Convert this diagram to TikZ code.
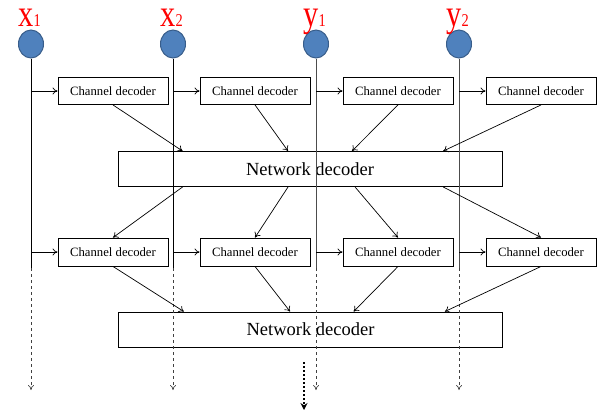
\documentclass[tikz,border=0pt]{standalone}
\usepackage{fontspec}
\setmainfont{Liberation Serif}
\usepackage{xcolor}
\usepackage{tikz}
\usetikzlibrary{shapes.geometric, arrows.meta, positioning, calc}
\definecolor{nodecolor}{RGB}{79,129,189}
\definecolor{nodeedge}{RGB}{56,93,138}
\definecolor{labelcolor}{RGB}{255,0,0}

\begin{document}
\begin{tikzpicture}[
    x=1pt, y=-1pt,
    source/.style={ellipse, draw=nodeedge, line width=1pt, fill=nodecolor, minimum width=25pt, minimum height=28pt, inner sep=0pt},
    srclabel/.style={anchor=base, text=labelcolor, inner sep=0pt},
    chdec/.style={draw, line width=0.9pt, minimum width=110pt, minimum height=27pt, inner sep=0pt, font=\fontsize{12.7}{13}\selectfont},
    netdec/.style={draw, line width=0.9pt, minimum width=384pt, minimum height=35pt, inner sep=0pt, font=\fontsize{18.5}{19}\selectfont},
    flow/.style={-{To[length=5pt,width=7pt]}, line width=0.7pt},
    wire/.style={line width=0.8pt},
    tail/.style={dashed, line width=0.7pt, draw=black!75, -{To[length=5pt,width=6pt]}}
]
    \useasboundingbox (0,0) rectangle (607,416);

    % Sources and their labels
    \node[source] (x1) at (31,44) {};
    \node[source] (x2) at (173,44) {};
    \node[source] (y1) at (316,44) {};
    \node[source] (y2) at (459,44) {};
    \node[srclabel] (lx1) at (29.5,26.5) {\scalebox{0.8}[1]{\fontsize{38}{38}\selectfont x\fontsize{18}{18}\selectfont 1}};
    \node[srclabel] (lx2) at (171.5,26.5) {\scalebox{0.8}[1]{\fontsize{38}{38}\selectfont x\fontsize{18}{18}\selectfont 2}};
    \node[srclabel] (ly1) at (314.5,26.5) {\scalebox{0.8}[1]{\fontsize{38}{38}\selectfont y\fontsize{18}{18}\selectfont 1}};
    \node[srclabel] (ly2) at (457.5,26.5) {\scalebox{0.8}[1]{\fontsize{38}{38}\selectfont y\fontsize{18}{18}\selectfont 2}};

    % First stage
    \node[chdec] (cdA1) at (113,91) {Channel decoder};
    \node[chdec] (cdA2) at (255,91) {Channel decoder};
    \node[chdec] (cdA3) at (398,91) {Channel decoder};
    \node[chdec] (cdA4) at (541,91) {Channel decoder};
    \node[netdec] (ndA) at (310,169) {Network decoder};

    % Second stage
    \node[chdec, minimum height=28pt] (cdB1) at (113,252) {Channel decoder};
    \node[chdec, minimum height=28pt] (cdB2) at (255,252) {Channel decoder};
    \node[chdec, minimum height=28pt] (cdB3) at (398,252) {Channel decoder};
    \node[chdec, minimum height=28pt] (cdB4) at (541,252) {Channel decoder};
    \node[netdec] (ndB) at (310.5,329.5) {Network decoder};

    % Source wires: solid, then dashed to the end
    \coordinate (mx1) at (31,268);   \coordinate (ex1) at (31,390);
    \coordinate (mx2) at (173,268);  \coordinate (ex2) at (173,390);
    \coordinate (my1) at (316,268);  \coordinate (ey1) at (316,390);
    \coordinate (my2) at (459,268);  \coordinate (ey2) at (459,390);
    \draw[wire] (x1.south) -- (mx1);
    \draw[wire] (x2.south) -- (mx2);
    \draw[wire, draw=black!70] (y1.south) -- (my1);
    \draw[wire, draw=black!70] (y2.south) -- (my2);
    \draw[tail] (mx1) -- (ex1);
    \draw[tail] (mx2) -- (ex2);
    \draw[tail] (my1) -- (ey1);
    \draw[tail] (my2) -- (ey2);

    % Wires into channel decoders
    \draw[flow] (cdA1.west -| x1) -- (cdA1.west);
    \draw[flow] (cdA2.west -| x2) -- (cdA2.west);
    \draw[flow] (cdA3.west -| y1) -- (cdA3.west);
    \draw[flow] (cdA4.west -| y2) -- (cdA4.west);
    \draw[flow] (cdB1.west -| x1) -- (cdB1.west);
    \draw[flow] (cdB2.west -| x2) -- (cdB2.west);
    \draw[flow] (cdB3.west -| y1) -- (cdB3.west);
    \draw[flow] (cdB4.west -| y2) -- (cdB4.west);

    % Channel decoders to network decoder
    \draw[flow] (cdA1.south) -- ($(ndA.north west)!0.169!(ndA.north east)$);
    \draw[flow] (cdA2.south) -- ($(ndA.north west)!0.443!(ndA.north east)$);
    \draw[flow] (cdA3.south) -- ($(ndA.north west)!0.609!(ndA.north east)$);
    \draw[flow] (cdA4.south) -- ($(ndA.north west)!0.846!(ndA.north east)$);

    % Network decoder back to channel decoders
    \draw[flow] ($(ndA.south west)!0.169!(ndA.south east)$) -- (cdB1.north);
    \draw[flow] ($(ndA.south west)!0.443!(ndA.south east)$) -- (cdB2.north);
    \draw[flow] ($(ndA.south west)!0.617!(ndA.south east)$) -- (cdB3.north);
    \draw[flow] ($(ndA.south west)!0.846!(ndA.south east)$) -- (cdB4.north);

    % Second stage into network decoder
    \draw[flow] (cdB1.south) -- ($(ndB.north west)!0.171!(ndB.north east)$);
    \draw[flow] (cdB2.south) -- ($(ndB.north west)!0.447!(ndB.north east)$);
    \draw[flow] (cdB3.south) -- ($(ndB.north west)!0.612!(ndB.north east)$);
    \draw[flow] (cdB4.south) -- ($(ndB.north west)!0.849!(ndB.north east)$);

    % Output
    \coordinate (outS) at (304,362);
    \coordinate (outE) at (304,410);
    \draw[dotted, line width=2pt, -{Stealth[length=7pt,width=7pt]}] (outS) -- (outE);
\end{tikzpicture}
\end{document}
